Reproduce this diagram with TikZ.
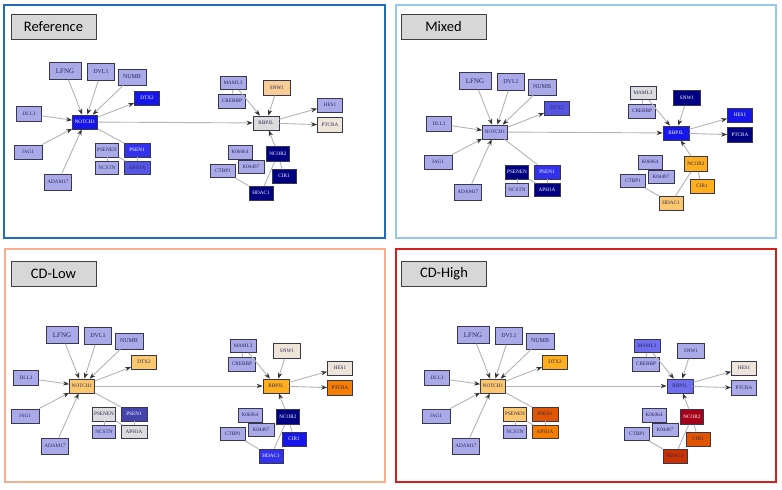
\documentclass[tikz,border=0pt]{standalone}
\usepackage{fontspec}
\setmainfont{Liberation Serif}
\newfontfamily\panelfont{Carlito}
\usetikzlibrary{arrows.meta}

\definecolor{lav}{RGB}{170,170,232}
\definecolor{nodeline}{RGB}{55,55,80}
\definecolor{genetext}{RGB}{40,40,95}
\definecolor{edgegray}{RGB}{180,180,180}
\definecolor{tipgray}{RGB}{50,50,50}
\definecolor{bright}{RGB}{22,22,235}
\definecolor{brightb}{RGB}{50,50,236}
\definecolor{midb}{RGB}{85,85,228}
\definecolor{periw}{RGB}{110,110,238}
\definecolor{slate}{RGB}{68,68,172}
\definecolor{navy}{RGB}{0,0,130}
\definecolor{peach}{RGB}{248,205,150}
\definecolor{pgray}{RGB}{220,220,220}
\definecolor{beige}{RGB}{238,229,216}
\definecolor{lorange}{RGB}{252,200,110}
\definecolor{amber}{RGB}{255,175,30}
\definecolor{dorange}{RGB}{245,125,0}
\definecolor{rorange}{RGB}{225,85,0}
\definecolor{rust}{RGB}{200,50,0}
\definecolor{dred}{RGB}{165,0,25}
\definecolor{boxgray}{RGB}{215,215,215}
\definecolor{refblue}{RGB}{30,110,180}
\definecolor{mixblue}{RGB}{150,200,235}
\definecolor{lowsalmon}{RGB}{245,175,140}
\definecolor{highred}{RGB}{215,30,30}

\tikzset{
	gene/.style={rectangle, draw=nodeline, line width=0.7pt, fill=lav, text=genetext,
		inner sep=0.5pt, minimum width=25pt, minimum height=14pt,
		font=\fontsize{5.2}{5.2}\selectfont},
	hi/.style={fill=#1, text=white},
	lo/.style={fill=#1},
	link/.style={draw=edgegray, line width=0.9pt},
	act/.style={link, -{Stealth[length=6pt, width=4.4pt, color=tipgray]}},
	panelname/.style={rectangle, draw=black!75, fill=boxgray, line width=0.8pt,
		minimum width=85pt, minimum height=25pt, font=\panelfont\fontsize{14.5}{14.5}\selectfont},
	frame/.style={line width=2.5pt},
	leftpart/.style={}, rightpart/.style={}, cluster/.style={}, repress/.style={},
}

% one Notch network, coloured through the c-<gene> styles of the panel
\newcommand{\notchnet}{%
	\begin{scope}[leftpart]
	\node (LFNG) at (65,71)		[gene, minimum width=32pt, minimum height=17pt, font=\fontsize{7}{7}\selectfont, c-LFNG/.try]	{LFNG};
	\node (DVL1) at (101,72)	[gene, minimum width=27pt, minimum height=17pt, font=\fontsize{6}{6}\selectfont, c-DVL1/.try]	{DVL1};
	\node (NUMB) at (132,77)	[gene, minimum width=28pt, minimum height=16pt, font=\fontsize{6}{6}\selectfont, c-NUMB/.try]	{NUMB};
	\node (DTX2) at (147,98)	[gene, c-DTX2/.try]	{DTX2};
	\node (DLL3) at (29,114)	[gene, minimum height=15pt, c-DLL3/.try]	{DLL3};
	\node (NOTCH1) at (85,122)	[gene, c-NOTCH1/.try]	{NOTCH1};
	\node (JAG1) at (28,152)	[gene, minimum width=28pt, c-JAG1/.try]	{JAG1};
	\node (ADAM17) at (58,182)	[gene, minimum width=27pt, minimum height=16pt, c-ADAM17/.try]	{ADAM17};
	\node (PSENEN) at (107,150)	[gene, minimum width=23pt, cluster, c-PSENEN/.try]	{PSENEN};
	\node (PSEN1) at (137,150)	[gene, minimum width=26pt, cluster, c-PSEN1/.try]	{PSEN1};
	\node (NCSTN) at (107,168)	[gene, minimum width=23pt, minimum height=13pt, cluster, c-NCSTN/.try]	{NCSTN};
	\node (APH1A) at (137,168)	[gene, minimum width=26pt, minimum height=13pt, cluster, c-APH1A/.try]	{APH1A};
	\end{scope}
	\begin{scope}[rightpart]
	\node (MAML3) at (233,83)	[gene, minimum width=26pt, minimum height=13pt, c-MAML3/.try]	{MAML3};
	\node (CREBBP) at (232,101)	[gene, minimum width=27pt, c-CREBBP/.try]	{CREBBP};
	\node (SNW1) at (277,88)	[gene, minimum width=27pt, minimum height=15pt, c-SNW1/.try]	{SNW1};
	\node (RBPJL) at (266,123)	[gene, minimum width=26pt, c-RBPJL/.try]	{RBPJL};
	\node (HES1) at (330,105)	[gene, c-HES1/.try]	{HES1};
	\node (PTCRA) at (330,125)	[gene, minimum height=15pt, c-PTCRA/.try]	{PTCRA};
	\node (K06064) at (240,152)	[gene, minimum width=24pt, c-K06064/.try]	{K06064};
	\node (NCOR2) at (278,154)	[gene, minimum width=23pt, minimum height=15pt, repress, c-NCOR2/.try]	{NCOR2};
	\node (K04497) at (251,167)	[gene, minimum width=26pt, minimum height=13pt, c-K04497/.try]	{K04497};
	\node (CTBP1) at (223,171)	[gene, minimum height=13pt, c-CTBP1/.try]	{CTBP1};
	\node (CIR1) at (284,176)	[gene, minimum width=24pt, repress, c-CIR1/.try]	{CIR1};
	\node (HDAC1) at (261,193)	[gene, minimum width=24pt, c-HDAC1/.try]	{HDAC1};
	\end{scope}
	\draw[act] (LFNG) -- (NOTCH1);
	\draw[act] (DVL1) -- (NOTCH1);
	\draw[act] (NUMB) -- (NOTCH1);
	\draw[act] (DLL3) -- (NOTCH1);
	\draw[act] (JAG1) -- (NOTCH1);
	\draw[act] (ADAM17) -- (NOTCH1);
	\draw[act] (NOTCH1) -- (DTX2);
	\draw[link] (NOTCH1) -- (PSEN1);
	\draw[link] (PSENEN) -- (NCSTN);
	\draw[link] (PSENEN) -- (APH1A);
	\draw[link] (PSEN1) -- (APH1A);
	\draw[act] (NOTCH1) -- (RBPJL);
	\draw[link] (MAML3) -- (CREBBP);
	\draw[act] (MAML3) -- (RBPJL);
	\draw[act] (SNW1) -- (RBPJL);
	\draw[act] (RBPJL) -- (HES1);
	\draw[act] (RBPJL) -- (PTCRA);
	\draw[act] (NCOR2) -- (RBPJL);
	\draw[link] (NCOR2) -- (CIR1);
	\draw[link] (NCOR2) -- (HDAC1);
	\draw[link] (CTBP1) -- (HDAC1);
}

\begin{document}
\begin{tikzpicture}[x=1pt, y=-1pt]
	\fill[white] (0,0) rectangle (782,490);
	\useasboundingbox (0,0) rectangle (782,490);

	% frames and panel names
	\draw[frame, draw=refblue] (4,5) rectangle (385,238);
	\draw[frame, draw=mixblue] (396,5) rectangle (776,238);
	\draw[frame, draw=lowsalmon] (5,249) rectangle (385,482);
	\draw[frame, draw=highred] (396,249) rectangle (776,482);
	\node (refname) at (53.5,26.5)	[panelname]	{Reference};
	\node (mixname) at (443.5,26.5)	[panelname]	{Mixed};
	\node (lowname) at (53.5,274)	[panelname]	{CD-Low};
	\node (highname) at (444,274)	[panelname]	{CD-High};

	% Reference
	\begin{scope}[name prefix=ref-,
		c-NOTCH1/.style={hi=bright}, c-DTX2/.style={hi=bright},
		c-PSEN1/.style={hi=brightb}, c-APH1A/.style={lo=midb},
		c-SNW1/.style={lo=peach}, c-RBPJL/.style={lo=pgray}, c-PTCRA/.style={lo=beige},
		c-NCOR2/.style={hi=navy}, c-CIR1/.style={hi=navy}, c-HDAC1/.style={hi=navy}]
		\notchnet
	\end{scope}

	% Mixed
	\begin{scope}[name prefix=mix-,
		leftpart/.style={shift={(410,10)}}, rightpart/.style={shift={(410,10)}},
		cluster/.style={yshift=-12pt}, repress/.style={xshift=8pt},
		c-DTX2/.style={lo=midb}, c-PSENEN/.style={hi=navy}, c-PSEN1/.style={hi=brightb},
		c-APH1A/.style={hi=navy}, c-MAML3/.style={lo=pgray}, c-SNW1/.style={hi=navy},
		c-RBPJL/.style={hi=bright}, c-HES1/.style={hi=bright}, c-PTCRA/.style={hi=navy},
		c-NCOR2/.style={lo=amber}, c-CIR1/.style={lo=amber}, c-HDAC1/.style={lo=lorange}]
		\notchnet
	\end{scope}

	% CD-Low
	\begin{scope}[name prefix=low-,
		leftpart/.style={shift={(-3,264)}}, rightpart/.style={shift={(10,263)}},
		c-NOTCH1/.style={lo=lorange}, c-DTX2/.style={lo=lorange},
		c-PSENEN/.style={lo=pgray}, c-PSEN1/.style={hi=slate}, c-APH1A/.style={lo=pgray},
		c-SNW1/.style={lo=beige}, c-RBPJL/.style={lo=amber}, c-HES1/.style={lo=beige},
		c-PTCRA/.style={lo=dorange}, c-NCOR2/.style={hi=navy}, c-CIR1/.style={hi=bright},
		c-HDAC1/.style={hi=brightb}]
		\notchnet
	\end{scope}

	% CD-High
	\begin{scope}[name prefix=high-,
		leftpart/.style={shift={(408,264)}}, rightpart/.style={shift={(414,263)}},
		c-NOTCH1/.style={lo=lorange}, c-DTX2/.style={lo=amber},
		c-PSENEN/.style={lo=lorange}, c-PSEN1/.style={lo=rorange}, c-APH1A/.style={lo=dorange},
		c-MAML3/.style={lo=periw}, c-RBPJL/.style={lo=periw}, c-HES1/.style={lo=beige},
		c-NCOR2/.style={hi=dred}, c-CIR1/.style={lo=rorange}, c-HDAC1/.style={lo=rust}]
		\notchnet
	\end{scope}
\end{tikzpicture}
\end{document}
